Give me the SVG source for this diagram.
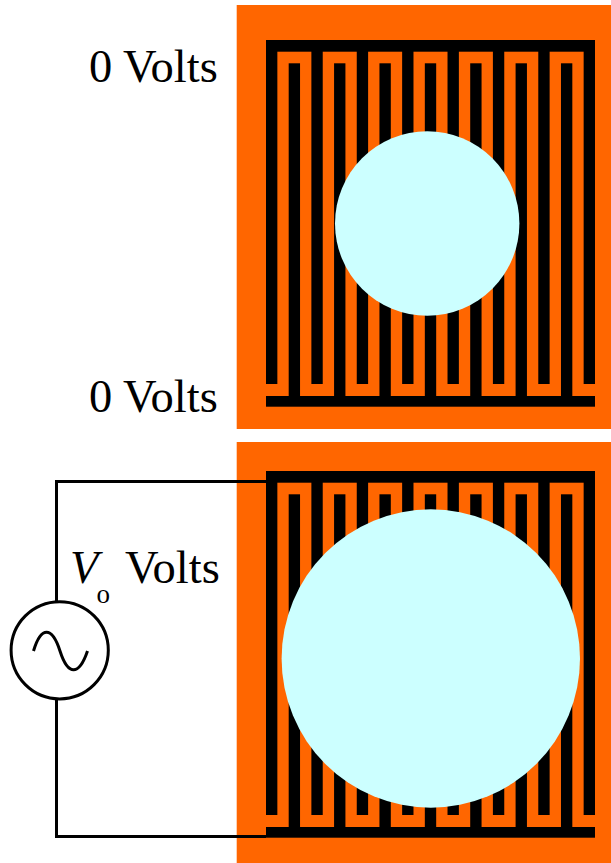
<svg xmlns="http://www.w3.org/2000/svg" xmlns:xlink="http://www.w3.org/1999/xlink" width="611" height="863" viewBox="0 0 611 863">
  <style>
    .pad { fill: #FF6600; }
    .metal { fill: #000000; }
    .drop { fill: #CCFFFF; }
    .wire { fill: none; stroke: #000000; stroke-width: 3; }
    .label { font-family: "Liberation Serif", "Times New Roman", serif; font-size: 46.5px; fill: #000000; }
  </style>
  <defs>
    <!-- interdigitated electrode pair: upper comb (bar + 8 fingers) and lower comb (bar + 7 fingers) -->
    <g id="comb" class="metal">
      <rect x="266" y="40" width="329" height="11.7"/>
      <rect x="266" y="51" width="11.35" height="333"/>
      <rect x="311.38" y="51" width="11.35" height="333"/>
      <rect x="356.76" y="51" width="11.35" height="333"/>
      <rect x="402.14" y="51" width="11.35" height="333"/>
      <rect x="447.52" y="51" width="11.35" height="333"/>
      <rect x="492.9" y="51" width="11.35" height="333"/>
      <rect x="538.28" y="51" width="11.35" height="333"/>
      <rect x="583.65" y="51" width="11.35" height="333"/>
      <rect x="288.69" y="63.3" width="11.35" height="333.4"/>
      <rect x="334.07" y="63.3" width="11.35" height="333.4"/>
      <rect x="379.45" y="63.3" width="11.35" height="333.4"/>
      <rect x="424.83" y="63.3" width="11.35" height="333.4"/>
      <rect x="470.21" y="63.3" width="11.35" height="333.4"/>
      <rect x="515.59" y="63.3" width="11.35" height="333.4"/>
      <rect x="560.97" y="63.3" width="11.35" height="333.4"/>
      <rect x="266" y="396" width="329" height="10.7"/>
    </g>
  </defs>

  <!-- unbiased electrodes: droplet at rest -->
  <g id="panel-off">
    <rect class="pad" x="236.7" y="5" width="374.3" height="424"/>
    <use xlink:href="#comb"/>
    <circle class="drop" cx="427.2" cy="223.5" r="92.2"/>
  </g>

  <!-- biased electrodes: droplet spread -->
  <g id="panel-on">
    <rect class="pad" x="236.7" y="442" width="374.3" height="421"/>
    <use xlink:href="#comb" transform="translate(0,431)"/>
    <circle class="drop" cx="430.8" cy="658.5" r="149.2"/>
  </g>

  <!-- leads from the AC source to both combs -->
  <g id="connectors">
    <path class="wire" d="M266,481.5 H56.5 V602"/>
    <path class="wire" d="M56.5,699 V836.5 H266"/>
  </g>

  <!-- AC voltage source -->
  <g id="source">
    <circle class="wire" cx="59.7" cy="650.3" r="48.6"/>
    <path class="wire" d="M33.5,651 C41,626 52,626 60,651 S79,676 87.5,651"/>
  </g>

  <g id="label-top">
    <text class="label" x="89" y="81.7">0 Volts</text>
  </g>
  <g id="label-bottom">
    <text class="label" x="89" y="412.3">0 Volts</text>
  </g>
  <g id="label-vo">
    <text class="label" x="70" y="583.3"><tspan font-style="italic">V</tspan><tspan x="96.5" y="603.3" font-size="27">o</tspan><tspan x="125" y="583.3">Volts</tspan></text>
  </g>
</svg>
